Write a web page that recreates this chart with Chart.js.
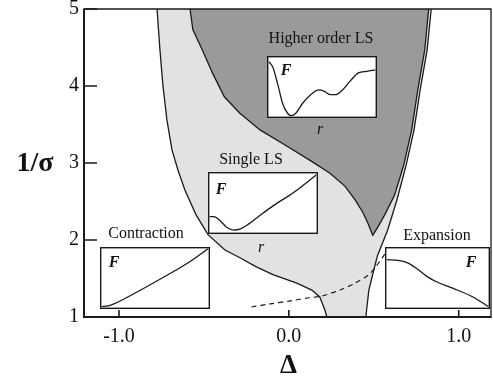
<!DOCTYPE html>
<html>
<head>
<meta charset="utf-8">
<script src="https://cdn.jsdelivr.net/npm/chart.js@4.4.1/dist/chart.umd.min.js"></script>
<style>
  body { margin: 0; background: #fff; }
  #wrap { position: relative; width: 493px; height: 382px; overflow: hidden; }
  #main { position: absolute; left: 0; top: 0; }
  .inset { position: absolute; }
  .lbl { position: absolute; font-family: "Liberation Serif", "DejaVu Serif", serif; color: #111;
         transform: translate(-50%, -50%); white-space: nowrap; line-height: 1; }
  .F { font-style: italic; font-weight: bold; font-size: 16px; }
  .r { font-style: italic; font-size: 16px; }
  .ttl { font-size: 16px; }
</style>
</head>
<body>
<div id="wrap">
  <canvas id="main" width="493" height="382"></canvas>

  <canvas class="inset" id="insetHigher" width="110" height="62" style="left:267px;top:56px;"></canvas>
  <canvas class="inset" id="insetSingle" width="110" height="62" style="left:208px;top:172px;"></canvas>
  <canvas class="inset" id="insetContraction" width="110" height="62" style="left:100px;top:247px;"></canvas>
  <canvas class="inset" id="insetExpansion" width="105" height="62" style="left:385px;top:247px;"></canvas>

  <div class="lbl ttl" style="left:321px;top:38px;">Higher order LS</div>
  <div class="lbl F" style="left:286px;top:70px;">F</div>
  <div class="lbl r" style="left:320px;top:129px;">r</div>

  <div class="lbl ttl" style="left:251px;top:159px;">Single LS</div>
  <div class="lbl F" style="left:221px;top:189px;">F</div>
  <div class="lbl r" style="left:261px;top:247px;">r</div>

  <div class="lbl ttl" style="left:146px;top:233px;">Contraction</div>
  <div class="lbl F" style="left:114px;top:262px;">F</div>

  <div class="lbl ttl" style="left:437px;top:235px;">Expansion</div>
  <div class="lbl F" style="left:471px;top:262px;">F</div>
</div>

<script>
// Axis ticks
const xTicks = [-1.0, 0.0, 1.0];
const yTicks = [1, 2, 3, 4, 5];

// Single-LS region: left boundary (top to bottom)
const singleLeftDelta    = [-0.776, -0.759, -0.741, -0.718, -0.688, -0.653, -0.612, -0.547, -0.476, -0.376, -0.288, -0.200, -0.094, 0.047, 0.135, 0.182, 0.212, 0.224];
const singleLeftInvSigma = [5.00, 4.47, 4.00, 3.56, 3.17, 2.91, 2.65, 2.33, 2.07, 1.87, 1.77, 1.66, 1.55, 1.44, 1.35, 1.26, 1.09, 1.00];

// Single-LS region: right boundary (top to bottom)
const singleRightDelta    = [0.838, 0.814, 0.773, 0.737, 0.690, 0.636, 0.582, 0.522, 0.500, 0.471, 0.453];
const singleRightInvSigma = [5.00, 4.47, 3.95, 3.43, 2.97, 2.52, 2.13, 1.80, 1.61, 1.35, 1.00];

// Higher-order-LS region: left boundary (top down to the cusp)
const higherLeftDelta    = [-0.582, -0.565, -0.510, -0.450, -0.380, -0.290, -0.170, -0.020, 0.120, 0.240, 0.330, 0.390, 0.435, 0.465, 0.494];
const higherLeftInvSigma = [5.00, 4.73, 4.47, 4.17, 3.86, 3.65, 3.43, 3.23, 3.04, 2.87, 2.70, 2.52, 2.36, 2.22, 2.06];

// Higher-order-LS region: right boundary (cusp up to the top)
const higherRightDelta    = [0.522, 0.565, 0.622, 0.676, 0.723, 0.759, 0.800, 0.823];
const higherRightInvSigma = [2.16, 2.33, 2.58, 2.97, 3.43, 3.95, 4.47, 5.00];

// Contraction / expansion crossover (dashed)
const crossoverDelta    = [-0.22, -0.11, 0.01, 0.12, 0.19, 0.30, 0.39, 0.48, 0.57];
const crossoverInvSigma = [1.13, 1.17, 1.21, 1.25, 1.27, 1.35, 1.44, 1.57, 1.83];

// Sketches of F(r) for each regime (normalised r and F)
const higherR = [0.00, 0.04, 0.086, 0.132, 0.178, 0.209, 0.255, 0.317, 0.394, 0.471, 0.517, 0.578, 0.625, 0.686, 0.763, 0.840, 0.917, 1.00];
const higherF = [0.93, 0.84, 0.55, 0.22, 0.055, 0.015, 0.055, 0.22, 0.37, 0.45, 0.43, 0.37, 0.37, 0.44, 0.60, 0.74, 0.765, 0.79];

const singleR = [0.00, 0.04, 0.10, 0.16, 0.23, 0.29, 0.37, 0.45, 0.60, 0.78, 1.00];
const singleF = [0.27, 0.27, 0.20, 0.09, 0.04, 0.06, 0.15, 0.26, 0.46, 0.67, 0.98];

const contractionR = [0.00, 0.061, 0.122, 0.183, 0.245, 0.367, 0.612, 0.795, 1.00];
const contractionF = [0.016, 0.027, 0.065, 0.119, 0.178, 0.297, 0.546, 0.741, 1.00];

const expansionR = [0.00, 0.112, 0.208, 0.304, 0.399, 0.495, 0.655, 0.847, 1.00];
const expansionF = [0.81, 0.80, 0.757, 0.649, 0.524, 0.432, 0.324, 0.178, 0.016];

const pts = (xs, ys) => xs.map((v, i) => ({ x: v, y: ys[i] }));

const singleRegion = pts(singleLeftDelta, singleLeftInvSigma)
  .concat(pts(singleRightDelta, singleRightInvSigma).reverse());
const higherRegion = pts(higherLeftDelta, higherLeftInvSigma)
  .concat(pts(higherRightDelta, higherRightInvSigma));
const crossover = pts(crossoverDelta, crossoverInvSigma);

const INK = '#1a1a1a';
const SERIF = '"Liberation Serif", "DejaVu Serif", serif';

// Frame, inward tick marks and axis symbols
const framePlugin = {
  id: 'frame',
  afterDatasetsDraw(chart) {
    const { ctx, chartArea: a, scales: { x, y } } = chart;
    ctx.save();
    ctx.strokeStyle = INK;
    ctx.lineWidth = 1.6;
    ctx.beginPath();
    yTicks.forEach(v => {
      const py = y.getPixelForValue(v);
      ctx.moveTo(a.left, py); ctx.lineTo(a.left + 13, py);
    });
    xTicks.forEach(v => {
      const px = x.getPixelForValue(v);
      ctx.moveTo(px, a.bottom); ctx.lineTo(px, a.bottom - 7);
    });
    ctx.stroke();

    ctx.lineWidth = 1.3;
    ctx.beginPath();
    ctx.moveTo(a.left, a.top); ctx.lineTo(a.right, a.top); ctx.lineTo(a.right, a.bottom);
    ctx.stroke();
    ctx.lineWidth = 2;
    ctx.beginPath();
    ctx.moveTo(a.left, a.top - 0.6); ctx.lineTo(a.left, a.bottom); ctx.lineTo(a.right + 0.6, a.bottom);
    ctx.stroke();

    ctx.fillStyle = '#111';
    ctx.textAlign = 'center';
    ctx.textBaseline = 'middle';
    ctx.font = 'bold 28px ' + SERIF;
    ctx.fillText('1/σ', 35, (a.top + a.bottom) / 2 + 1);
    ctx.font = 'bold 27px ' + SERIF;
    ctx.fillText('Δ', (a.left + a.right) / 2 + 1, 366);
    ctx.restore();
  }
};

function noScalePadding(s) {
  s.paddingTop = 0; s.paddingBottom = 0; s.paddingLeft = 0; s.paddingRight = 0;
}

new Chart(document.getElementById('main'), {
  type: 'scatter',
  data: {
    datasets: [
      { label: 'Single LS', data: singleRegion, showLine: true, fill: 'shape',
        backgroundColor: '#e2e2e2', borderColor: INK, borderWidth: 1.3,
        pointRadius: 0, tension: 0, order: 3 },
      { label: 'Higher order LS', data: higherRegion, showLine: true, fill: 'shape',
        backgroundColor: '#9a9a9a', borderColor: INK, borderWidth: 1.3,
        pointRadius: 0, tension: 0, order: 2 },
      { label: 'Crossover', data: crossover, showLine: true, fill: false,
        borderColor: INK, borderWidth: 1.2, borderDash: [5, 4],
        pointRadius: 0, tension: 0.3, order: 1 }
    ]
  },
  options: {
    responsive: false,
    animation: false,
    events: [],
    layout: { padding: { top: 9, right: 2, left: 0, bottom: 0 } },
    plugins: { legend: { display: false }, tooltip: { enabled: false } },
    scales: {
      x: {
        type: 'linear', min: -1.206, max: 1.19,
        afterFit(s) { s.height = 65; noScalePadding(s); },
        afterBuildTicks(s) { s.ticks = xTicks.map(v => ({ value: v })); },
        grid: { display: false, drawTicks: false },
        border: { display: false },
        ticks: { padding: 8, color: '#111', maxRotation: 0, autoSkip: false,
                 font: { family: SERIF, size: 20 },
                 callback: v => Number(v).toFixed(1) }
      },
      y: {
        type: 'linear', min: 1, max: 5,
        afterFit(s) { s.width = 84; noScalePadding(s); },
        afterBuildTicks(s) { s.ticks = yTicks.map(v => ({ value: v })); },
        grid: { display: false, drawTicks: false },
        border: { display: false },
        ticks: { padding: 5, color: '#111', font: { family: SERIF, size: 20 },
                 callback: v => String(v) }
      }
    }
  },
  plugins: [framePlugin]
});

// Boxed F(r) sketches
const boxPlugin = {
  id: 'box',
  beforeDraw(chart) {
    const { ctx, width, height } = chart;
    ctx.save(); ctx.fillStyle = '#fff'; ctx.fillRect(0, 0, width, height); ctx.restore();
  },
  afterDraw(chart) {
    const { ctx, width, height } = chart;
    ctx.save(); ctx.strokeStyle = INK; ctx.lineWidth = 1.4;
    ctx.strokeRect(0.7, 0.7, width - 1.4, height - 1.4); ctx.restore();
  }
};

function sketch(id, rs, fs) {
  new Chart(document.getElementById(id), {
    type: 'scatter',
    data: { datasets: [{ data: pts(rs, fs), showLine: true, borderColor: INK, borderWidth: 1.3,
                         pointRadius: 0, cubicInterpolationMode: 'monotone' }] },
    options: {
      responsive: false, animation: false, events: [],
      layout: { padding: 1.5 },
      plugins: { legend: { display: false }, tooltip: { enabled: false } },
      scales: { x: { type: 'linear', min: 0, max: 1, display: false },
                y: { type: 'linear', min: 0, max: 1, display: false } }
    },
    plugins: [boxPlugin]
  });
}

sketch('insetHigher', higherR, higherF);
sketch('insetSingle', singleR, singleF);
sketch('insetContraction', contractionR, contractionF);
sketch('insetExpansion', expansionR, expansionF);
</script>
</body>
</html>
